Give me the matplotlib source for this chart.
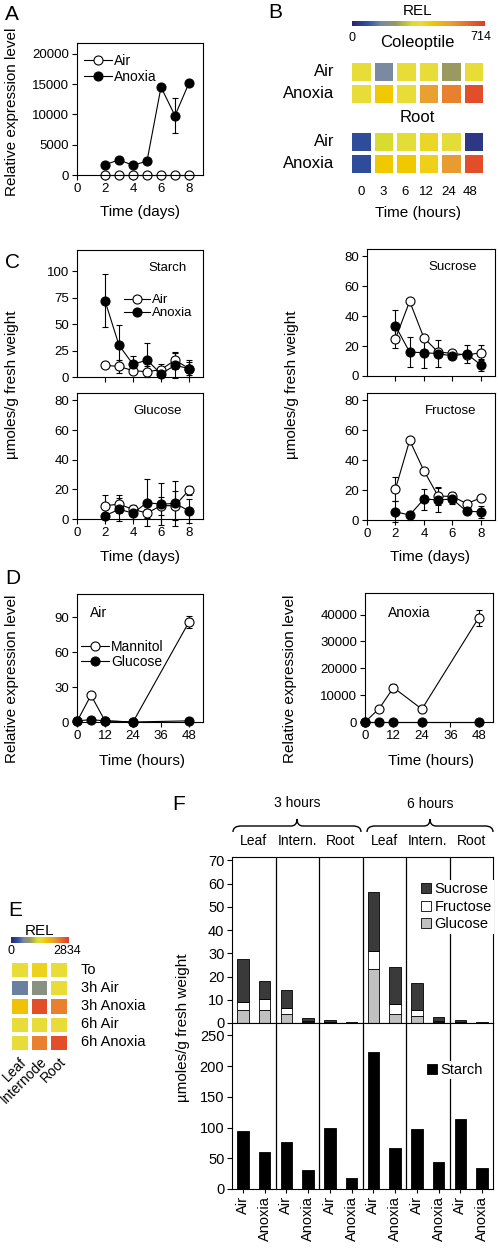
import numpy as np
import matplotlib
matplotlib.use('Agg')
import matplotlib.pyplot as plt
from matplotlib.colors import LinearSegmentedColormap
from matplotlib.path import Path
from matplotlib.patches import PathPatch
from matplotlib.lines import Line2D

plt.rcParams['font.family'] = ['Liberation Sans', 'DejaVu Sans']

# ---- data ----
# A: expression over days
days = [2, 3, 4, 5, 6, 7, 8]
a_air = [0, 0, 0, 0, 0, 0, 0]
a_anox = [1700, 2500, 1600, 2300, 14500, 9800, 15200]
a_anox_err = [0, 0, 0, 0, 0, 2900, 0]

# B: heatmap (REL, max 714)
b_times = ['0', '3', '6', '12', '24', '48']
b_rows = ['Air', 'Anoxia']
b_coleoptile = [[371, 157, 371, 371, 236, 371],
                [371, 428, 371, 528, 585, 678]]
b_root = [[71, 321, 357, 393, 357, 36],
          [71, 428, 428, 407, 535, 678]]
b_max = 714

# C: sugars (umoles/g fresh weight)
starch_air = [11, 10, 6, 5, 7, 16, 8]
starch_air_err = [2, 6, 3, 5, 5, 8, 6]
starch_anox = [72, 30, 12, 16, 3, 11, 8]
starch_anox_err = [25, 19, 8, 16, 3, 12, 8]
sucrose_air = [25, 50, 25.5, 16, 15.2, 14, 15.6]
sucrose_air_err = [6, 0, 0, 0, 0, 0, 5]
sucrose_anox = [33.5, 16, 15.6, 15, 13.4, 15, 7.4]
sucrose_anox_err = [11, 10, 10, 9, 2, 6, 4]
glucose_air = [9, 10, 6.5, 4, 9, 9, 19.5]
glucose_air_err = [7, 6, 3, 3, 6, 10, 3]
glucose_anox = [2.2, 6.5, 4, 11, 10, 10.5, 5.5]
glucose_anox_err = [2, 8, 4, 16, 14, 15, 8]
fructose_air = [20.7, 53.3, 33, 16, 15.8, 11, 14.7]
fructose_air_err = [8, 0, 0, 6, 3, 2, 2]
fructose_anox = [5.5, 3.3, 14, 13.5, 14, 5.8, 5.5]
fructose_anox_err = [7, 3, 7, 8, 3, 2, 4]

# D: sugar treatment, expression over hours
hours = [0, 6, 12, 24, 48]
d_air_mannitol = [0.5, 23, 1, 0, 86]
d_air_mannitol_err = [0, 0, 0, 0, 5]
d_air_glucose = [1, 2, 1, 0, 1]
d_anox_mannitol = [0, 5000, 12800, 4800, 38800]
d_anox_mannitol_err = [0, 0, 1500, 0, 3000]
d_anox_glucose = [0, 0, 0, 0, 0]

# E: heatmap (REL, max 2834)
e_cols = ['Leaf', 'Internode', 'Root']
e_rows = ['To', '3h Air', '3h Anoxia', '6h Air', '6h Anoxia']
e_vals = [[1474, 1587, 1474],
          [567, 765, 1474],
          [1757, 2692, 2324],
          [1474, 1474, 1474],
          [1474, 2324, 2692]]
e_max = 2834

# F: carbohydrates per organ
f_labels = ['Air', 'Anoxia'] * 6
f_organs = ['Leaf', 'Intern.', 'Root', 'Leaf', 'Intern.', 'Root']
f_glucose = [5.5, 5.5, 3.9, 0.5, 0.3, 0.1, 23.4, 4.0, 3.0, 0.5, 0.3, 0.1]
f_fructose = [3.5, 5.0, 2.4, 0.5, 0.2, 0.1, 7.5, 4.0, 2.8, 0.5, 0.3, 0.1]
f_sucrose = [18.7, 7.5, 8.0, 1.2, 0.6, 0.2, 25.7, 16.3, 11.3, 1.5, 0.8, 0.2]
f_starch = [94.5, 60, 76, 31, 100, 18, 223, 66, 98, 44, 114, 33.5]

# ---- figure helpers ----
W, H = 498, 1249
fig = plt.figure(figsize=(W / 100, H / 100), dpi=100)

def box(x0, y0, x1, y1):
    return fig.add_axes([x0 / W, 1 - y1 / H, (x1 - x0) / W, (y1 - y0) / H])

def ftext(x, y, s, **kw):
    fig.text(x / W, 1 - y / H, s, **kw)

def style(ax, size=9.5):
    ax.tick_params(direction='out', length=3.5, width=0.8, labelsize=size, pad=2)
    for sp in ax.spines.values():
        sp.set_linewidth(0.8)

def series(ax, x, y, err, filled):
    eb = ax.errorbar(x, y, yerr=err, fmt='none', ecolor='k', elinewidth=0.8,
                     capsize=2.5, capthick=0.8, zorder=2)
    for art in eb.lines[1] + eb.lines[2]:
        art.set_clip_on(False)
    ax.plot(x, y, '-o', color='k', lw=0.8, ms=6.5, mfc='k' if filled else 'white',
            mec='k', mew=0.8, zorder=3 if filled else 2.5, clip_on=False)

def handles(names):
    return [Line2D([], [], color='k', lw=0.8, marker='o', ms=6.5, mec='k', mew=0.8,
                   mfc=fc) for fc in ['white', 'k']], names

rel = LinearSegmentedColormap.from_list('rel', [
    (0.00, '#2c2470'), (0.12, '#2f55a3'), (0.22, '#7a8aa0'), (0.33, '#9a9a60'),
    (0.45, '#d8dc30'), (0.52, '#e8dc3a'), (0.60, '#f0c800'), (0.74, '#e8a030'),
    (0.82, '#e88030'), (1.00, '#e03c28')])

def heat(ax, vals, vmax, lw):
    ax.pcolormesh(np.array(vals)[::-1], cmap=rel, vmin=0, vmax=vmax,
                  edgecolors='white', linewidth=lw)
    ax.set_xticks([])
    ax.set_yticks([])
    for sp in ax.spines.values():
        sp.set_visible(False)

def colorbar(ax):
    ax.imshow(np.linspace(0, 1, 256)[None, :], aspect='auto', cmap=rel)
    ax.axis('off')

# ---- A ----
ftext(5, 14, 'A', fontsize=15, va='center')
ax = box(77, 43, 203, 175)
series(ax, days, a_air, None, False)
series(ax, days, a_anox, a_anox_err, True)
ax.set_xlim(0, 9)
ax.set_ylim(0, 21800)
ax.set_xticks([0, 2, 4, 6, 8])
ax.set_yticks([0, 5000, 10000, 15000, 20000])
style(ax)
h, l = handles(['Air', 'Anoxia'])
ax.legend(h, l, loc='upper left', bbox_to_anchor=(84 / W, 1 - 54 / H),
          bbox_transform=fig.transFigure, frameon=False, fontsize=10,
          handlelength=2.0, handletextpad=0.15, labelspacing=0.15,
          borderpad=0, borderaxespad=0)
ftext(12, 112, 'Relative expression level', rotation=90, fontsize=11,
      ha='center', va='center')
ftext(140, 212, 'Time (days)', fontsize=11, ha='center', va='center')

# ---- B ----
ftext(275, 12, 'B', fontsize=15, ha='center', va='center')
ftext(418, 11, 'REL', fontsize=11, ha='center', va='center')
colorbar(box(352, 21, 484, 26))
ftext(352, 38, '0', fontsize=9, ha='center', va='center')
ftext(481, 37, str(b_max), fontsize=9, ha='center', va='center')
ftext(417, 43, 'Coleoptile', fontsize=12, ha='center', va='center')
ftext(417, 118, 'Root', fontsize=12, ha='center', va='center')
for (y0, y1), vals in [((61, 105), b_coleoptile), ((131, 175), b_root)]:
    heat(box(350, y0, 485, y1), vals, b_max, 2.7)
    for i, r in enumerate(b_rows):
        ftext(334, y0 + 11 + 22 * i, r, fontsize=12, ha='right', va='center')
for i, t in enumerate(b_times):
    ftext(361 + 21.8 * i, 192, t, fontsize=9.5, ha='center', va='center')
ftext(418, 213, 'Time (hours)', fontsize=11, ha='center', va='center')

# ---- C ----
ftext(5, 262, 'C', fontsize=15, va='center')
c_panels = [
    ((77, 250, 203, 377), 'Starch', 0.72, starch_air, starch_air_err,
     starch_anox, starch_anox_err, (0, 120), [0, 25, 50, 75, 100], False),
    ((77, 393, 203, 519), 'Glucose', 0.64, glucose_air, glucose_air_err,
     glucose_anox, glucose_anox_err, (0, 85), [0, 20, 40, 60, 80], True),
    ((367, 249, 495, 376), 'Sucrose', 0.67, sucrose_air, sucrose_air_err,
     sucrose_anox, sucrose_anox_err, (0, 85), [0, 20, 40, 60, 80], False),
    ((367, 393, 495, 520), 'Fructose', 0.65, fructose_air, fructose_air_err,
     fructose_anox, fructose_anox_err, (0, 85), [0, 20, 40, 60, 80], True),
]
for rect, name, tx, ya, ea, yn, en, ylim, yt, bottom in c_panels:
    ax = box(*rect)
    series(ax, days, ya, ea, False)
    series(ax, days, yn, en, True)
    ax.set_xlim(0, 9)
    ax.set_ylim(*ylim)
    ax.set_yticks(yt)
    if bottom:
        ax.set_xticks([0, 2, 4, 6, 8])
    else:
        ax.set_xticks([2, 4, 6, 8])
        ax.set_xticklabels([])
    style(ax)
    ax.text(tx, 0.86, name, transform=ax.transAxes, fontsize=9.5,
            ha='center', va='center')
    if name == 'Starch':
        h, l = handles(['Air', 'Anoxia'])
        ax.legend(h, l, loc='upper left', bbox_to_anchor=(124 / W, 1 - 294 / H),
                  bbox_transform=fig.transFigure, frameon=False, fontsize=9.5,
                  handlelength=2.0, handletextpad=0.15, labelspacing=0.05,
                  borderpad=0, borderaxespad=0)
ftext(12, 385, 'µmoles/g fresh weight', rotation=90, fontsize=11,
      ha='center', va='center')
ftext(292, 385, 'µmoles/g fresh weight', rotation=90, fontsize=11,
      ha='center', va='center')
ftext(140, 557, 'Time (days)', fontsize=11, ha='center', va='center')
ftext(430, 557, 'Time (days)', fontsize=11, ha='center', va='center')

# ---- D ----
ftext(5, 578, 'D', fontsize=15, va='center')
d_panels = [
    ((77, 594, 203, 722), 'Air', d_air_mannitol, d_air_mannitol_err,
     d_air_glucose, (0, 110), [0, 30, 60, 90], 12, 90),
    ((365, 593, 493, 722), 'Anoxia', d_anox_mannitol, d_anox_mannitol_err,
     d_anox_glucose, (0, 48000), [0, 10000, 20000, 30000, 40000], 290, 388),
]
for rect, name, ym, em, yg, ylim, yt, lx, nx in d_panels:
    ax = box(*rect)
    series(ax, hours, ym, em, False)
    series(ax, hours, yg, None, True)
    ax.set_xlim(0, 54)
    ax.set_ylim(*ylim)
    ax.set_xticks([0, 12, 24, 36, 48])
    ax.set_yticks(yt)
    style(ax)
    ftext(nx, 613, name, fontsize=10, va='center')
    ftext(lx, 679, 'Relative expression level', rotation=90, fontsize=11,
          ha='center', va='center')
    ftext((rect[0] + rect[2]) / 2 + 2, 761, 'Time (hours)', fontsize=11,
          ha='center', va='center')
    if name == 'Air':
        h, l = handles(['Mannitol', 'Glucose'])
        ax.legend(h, l, loc='upper left', bbox_to_anchor=(81 / W, 1 - 640 / H),
                  bbox_transform=fig.transFigure, frameon=False, fontsize=10,
                  handlelength=2.0, handletextpad=0.15, labelspacing=0.05,
                  borderpad=0, borderaxespad=0)

# ---- E ----
ftext(8, 910, 'E', fontsize=15, va='center')
ftext(40, 931, 'REL', fontsize=11, ha='center', va='center')
colorbar(box(11, 937, 68, 943))
ftext(11, 951, '0', fontsize=9, ha='center', va='center')
ftext(67, 951, str(e_max), fontsize=9, ha='center', va='center')
ax = box(10, 961, 69, 1052)
heat(ax, e_vals, e_max, 1.6)
for i, r in enumerate(e_rows):
    ftext(81, 970 + 18.1 * i, r, fontsize=10.5, va='center')
ax.set_xticks([0.5, 1.5, 2.5])
ax.set_xticklabels(e_cols, rotation=45, ha='right', rotation_mode='anchor',
                   fontsize=10)
ax.tick_params(length=0, pad=2)

# ---- F ----
ftext(172, 805, 'F', fontsize=15, va='center')
xb = np.arange(len(f_labels))
seps = [1.5, 3.5, 5.5, 7.5, 9.5]
bw = 0.52
axt = box(232, 857, 493, 1023)
bot = np.zeros(len(xb))
for vals, col, name in [(f_glucose, '#c0c0c0', 'Glucose'),
                        (f_fructose, 'white', 'Fructose'),
                        (f_sucrose, '#3a3a3a', 'Sucrose')]:
    axt.bar(xb, vals, bw, bottom=bot, color=col, edgecolor='k', linewidth=0.6,
            label=name, zorder=2)
    bot += np.array(vals)
for s in seps:
    axt.axvline(s, color='k', lw=0.9, zorder=1)
axt.set_xlim(-0.5, 11.5)
axt.set_ylim(0, 71.5)
axt.set_yticks(range(0, 71, 10))
axt.set_xticks([])
style(axt, 10.5)
hs, ls = axt.get_legend_handles_labels()
leg = axt.legend(hs[::-1], ls[::-1], loc='upper left',
                 bbox_to_anchor=(419 / W, 1 - 880 / H),
                 bbox_transform=fig.transFigure, fontsize=10.5, frameon=True,
                 facecolor='white', edgecolor='none', framealpha=1, fancybox=False,
                 handlelength=0.7, handleheight=0.7, handletextpad=0.2,
                 labelspacing=0.25, borderpad=0.15, borderaxespad=0)
leg.set_zorder(5)
for i, org in enumerate(f_organs):
    axt.text(2 * i + 0.5, 75.5, org, fontsize=10, ha='center', va='bottom')

axb = box(232, 1023, 493, 1189)
axb.bar(xb, f_starch, bw, color='black', edgecolor='k', linewidth=0.6,
        label='Starch', zorder=2)
for s in seps:
    axb.axvline(s, color='k', lw=0.9, zorder=1)
axb.set_xlim(-0.5, 11.5)
axb.set_ylim(0, 270)
axb.set_yticks(range(0, 251, 50))
axb.set_xticks(xb)
axb.set_xticklabels(f_labels, rotation=90, fontsize=10.5)
style(axb, 10.5)
axb.tick_params(axis='x', length=3)
leg = axb.legend(loc='upper left', bbox_to_anchor=(425 / W, 1 - 1061 / H),
                 bbox_transform=fig.transFigure, fontsize=10.5, frameon=True,
                 facecolor='white', edgecolor='none', framealpha=1, fancybox=False,
                 handlelength=0.7, handleheight=0.7, handletextpad=0.2,
                 borderpad=0.15, borderaxespad=0)
leg.set_zorder(5)
ftext(183, 1028, 'µmoles/g fresh weight', rotation=90, fontsize=11,
      ha='center', va='center')

def brace(x0, x1, xm, yb, yl, yt):
    pts = [(x0, yb), (x0, yl), (x0 + 8, yl), (xm - 6, yl), (xm, yl), (xm, yt),
           (xm, yl), (xm + 6, yl), (x1 - 8, yl), (x1, yl), (x1, yb)]
    codes = [Path.MOVETO, Path.CURVE3, Path.CURVE3, Path.LINETO, Path.CURVE3,
             Path.CURVE3, Path.CURVE3, Path.CURVE3, Path.LINETO, Path.CURVE3,
             Path.CURVE3]
    verts = [(x / W, 1 - y / H) for x, y in pts]
    fig.add_artist(PathPatch(Path(verts, codes), transform=fig.transFigure,
                             fill=False, lw=1.0, color='k'))

brace(233, 361, 297, 832, 826, 819)
brace(367, 493, 430, 832, 826, 819)
ftext(297, 803, '3 hours', fontsize=10, ha='center', va='center')
ftext(430, 804, '6 hours', fontsize=10, ha='center', va='center')

fig.savefig('out.png', dpi=100)
